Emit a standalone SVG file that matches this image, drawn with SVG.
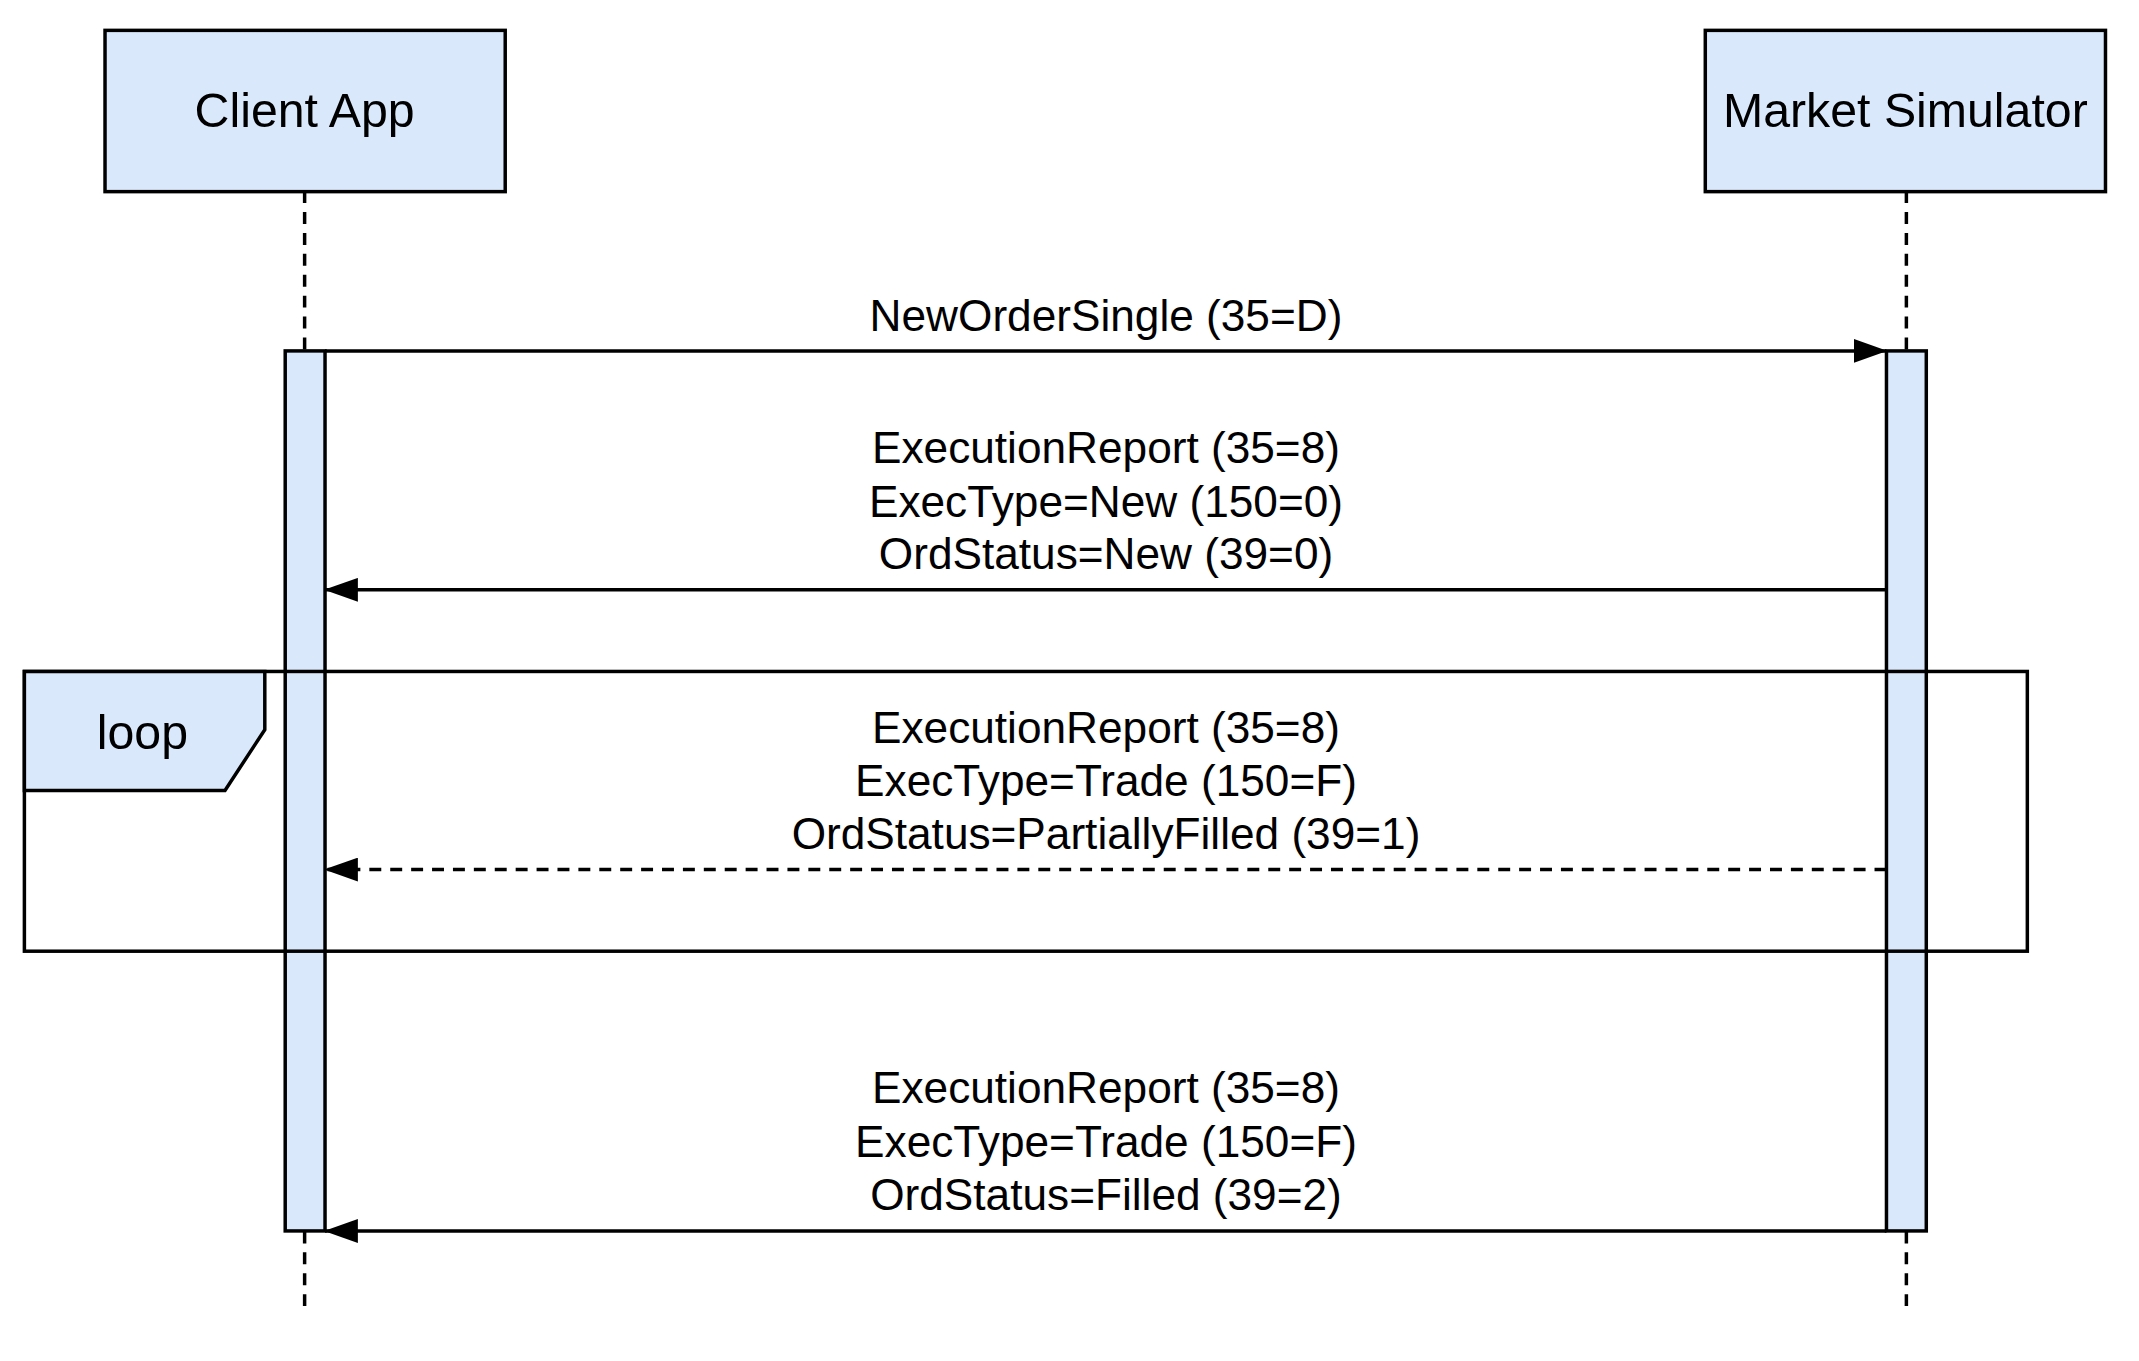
<svg xmlns="http://www.w3.org/2000/svg" width="2139" height="1361" viewBox="0 0 2139 1361">
<style>
.box{fill:#dae8fc;stroke:#000;stroke-width:3.5}
.life{stroke:#000;stroke-width:3.5;stroke-dasharray:12 9;fill:none}
.msg{stroke:#000;stroke-width:3.5;fill:none}
.t{font-family:"Liberation Sans",Arial,sans-serif;fill:#000;text-anchor:middle}
.title{font-size:48.5px}
.m{font-size:44.4px}
</style>
<defs>
<marker id="ah" markerWidth="34" markerHeight="24" refX="33" refY="12" orient="auto" markerUnits="userSpaceOnUse"><path d="M0,0 L34,12 L0,24 Z" fill="#000"/></marker>
</defs>
<rect width="2139" height="1361" fill="#fff"/>
<g transform="scale(0.9955)">
<g id="lifelines">
<line class="life" x1="306" y1="192" x2="306" y2="352"/>
<line class="life" x1="306" y1="1237" x2="306" y2="1320"/>
<line class="life" x1="1915" y1="192" x2="1915" y2="352"/>
<line class="life" x1="1915" y1="1237" x2="1915" y2="1320"/>
</g>
<g id="client-app"><rect class="box" x="105.5" y="30.5" width="402" height="162"/><text class="t title" x="306" y="128">Client App</text></g>
<g id="market-simulator"><rect class="box" x="1713" y="30.5" width="402" height="162"/><text class="t title" x="1914" y="128">Market Simulator</text></g>
<g id="activation-client"><rect class="box" x="286.5" y="352.5" width="40" height="884"/></g>
<g id="activation-market"><rect class="box" x="1895" y="352.5" width="40" height="884"/></g>
<g id="loop"><rect x="24.5" y="674.5" width="2012" height="281" fill="none" stroke="#000" stroke-width="3.5"/><path d="M24.5,674.5 H266 V733 L226,794 H24.5 Z" class="box"/><text class="t title" x="143" y="752">loop</text></g>
<g id="connectors">
<line class="msg" x1="326.5" y1="352.5" x2="1895" y2="352.5" marker-end="url(#ah)"/>
<line class="msg" x1="1895" y1="592.5" x2="326.5" y2="592.5" marker-end="url(#ah)"/>
<line class="msg" x1="1895" y1="873.5" x2="326.5" y2="873.5" marker-end="url(#ah)" stroke-dasharray="12 9"/>
<line class="msg" x1="1895" y1="1236.5" x2="326.5" y2="1236.5" marker-end="url(#ah)"/>
</g>
<g id="labels">
<text class="t m" x="1111" y="332">NewOrderSingle (35=D)</text>
<text class="t m" x="1111" y="465">ExecutionReport (35=8)</text>
<text class="t m" x="1111" y="519">ExecType=New (150=0)</text>
<text class="t m" x="1111" y="572">OrdStatus=New (39=0)</text>
<text class="t m" x="1111" y="746">ExecutionReport (35=8)</text>
<text class="t m" x="1111" y="800">ExecType=Trade (150=F)</text>
<text class="t m" x="1111" y="853">OrdStatus=PartiallyFilled (39=1)</text>
<text class="t m" x="1111" y="1108">ExecutionReport (35=8)</text>
<text class="t m" x="1111" y="1162">ExecType=Trade (150=F)</text>
<text class="t m" x="1111" y="1215">OrdStatus=Filled (39=2)</text>
</g>
</g>
</svg>
